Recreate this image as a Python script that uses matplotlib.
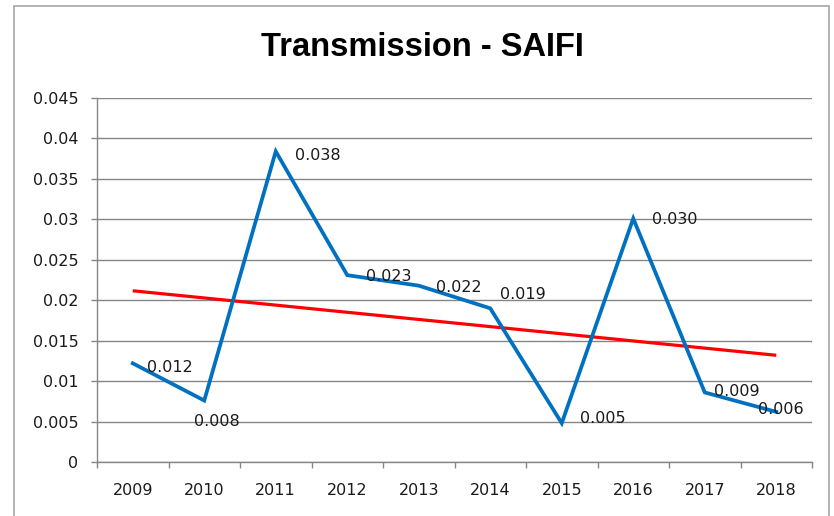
import matplotlib
matplotlib.use("Agg")
import matplotlib.pyplot as plt
import numpy as np
from matplotlib.patches import Rectangle
from matplotlib.ticker import FixedLocator, FuncFormatter

# Data
years = ["2009", "2010", "2011", "2012", "2013", "2014", "2015", "2016", "2017", "2018"]
saifi = [0.0122, 0.0076, 0.0384, 0.0231, 0.0218, 0.0190, 0.0048, 0.0301, 0.0086, 0.0062]

# where each data label sits relative to its point (pixels)
label_offsets = [(14, -4), (-10, -21), (19, -4), (19, -1), (17, -2),
                 (10, 14), (18, 5), (19, -1), (9, 1), (-18, 2)]

fig = plt.figure(figsize=(8.34, 5.16), dpi=100, facecolor="white")
ax = fig.add_axes([97 / 834, 54 / 516, 715 / 834, 364 / 516])

x = np.arange(len(years))

# linear trend line like Excel's
slope, icept = np.polyfit(x, saifi, 1)
ax.plot(x, slope * x + icept, color="#FF0000", lw=2.3, zorder=3, solid_capstyle="butt")
ax.plot(x, saifi, color="#0070C0", lw=2.7, zorder=4, solid_joinstyle="miter")

for xi, v, (dx, dy) in zip(x, saifi, label_offsets):
    ax.annotate(f"{v:.3f}", (xi, v), xytext=(dx, dy), textcoords="offset pixels",
                ha="left", va="center", fontsize=11.5, color="#1a1a1a", zorder=5)

ax.set_xlim(-0.5, len(years) - 0.5)
ax.set_ylim(0, 0.045)

ax.set_yticks(np.arange(0, 0.0451, 0.005))
ax.yaxis.set_major_formatter(FuncFormatter(lambda v, p: f"{round(v, 4):g}"))
ax.set_xticks(x)
ax.set_xticklabels(years)
ax.xaxis.set_minor_locator(FixedLocator(np.arange(-0.5, len(years), 1.0)))

ax.tick_params(axis="x", which="major", length=0, pad=15, labelsize=11.5, labelcolor="#1a1a1a")
ax.tick_params(axis="x", which="minor", length=4.5, width=1, color="#868686")
ax.tick_params(axis="y", length=4.5, width=1, color="#868686", pad=9,
               labelsize=11.5, labelcolor="#1a1a1a")

ax.yaxis.grid(True, color="#868686", lw=1)
ax.set_axisbelow(True)
for s in ["top", "right"]:
    ax.spines[s].set_visible(False)
for s in ["left", "bottom"]:
    ax.spines[s].set_color("#868686")
    ax.spines[s].set_linewidth(1)

fig.text(422 / 834, 1 - 48 / 516, "Transmission - SAIFI", ha="center", va="center",
         fontsize=23.5, fontweight="bold", family="Liberation Sans")

# chart border
fig.add_artist(Rectangle((14 / 834, -0.1), 815 / 834, 1.1 - 6 / 516,
                         transform=fig.transFigure, fill=False,
                         edgecolor="#a6a6a6", lw=1.2))

fig.savefig("out.png", dpi=100)
